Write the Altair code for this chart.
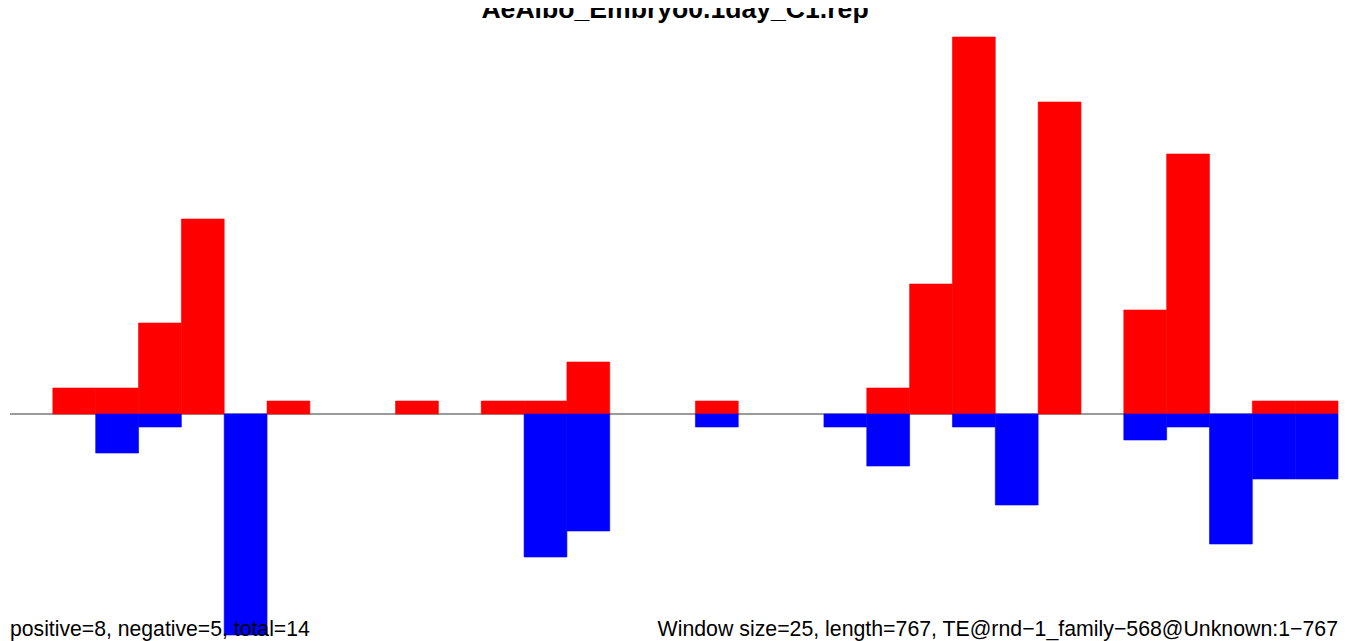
import altair as alt
import pandas as pd

# window index (25 bp windows over a 767 bp element)
bins = list(range(31))
positive_counts = [0, 2, 2, 7, 15, 0, 1, 0, 0, 1, 0, 1, 1, 4, 0, 0,
                   1, 0, 0, 0, 2, 10, 29, 0, 24, 0, 8, 20, 0, 1, 1]
negative_counts = [0, 0, 3, 1, 0, 17, 0, 0, 0, 0, 0, 0, 11, 9, 0, 0,
                   1, 0, 0, 1, 4, 0, 1, 7, 0, 0, 2, 1, 10, 5, 5]

title_text = "AeAlbo_Embryo0.1day_C1.rep"
left_note = "positive=8, negative=5, total=14"
right_note = "Window size=25, length=767, TE@rnd\u22121_family\u2212568@Unknown:1\u2212767"

rows = []
for b, p, n in zip(bins, positive_counts, negative_counts):
    if p:
        rows.append({"start": b, "end": b + 1, "value": p, "strand": "pos"})
    if n:
        rows.append({"start": b, "end": b + 1, "value": -n, "strand": "neg"})
df = pd.DataFrame(rows)

W, H = 1331, 633
xscale = alt.Scale(domain=[0, 31], range=[2, 1330], nice=False, zero=False)
yscale = alt.Scale(domain=[-17, 29], range=[627, 29], nice=False, zero=False)
strand_scale = alt.Scale(domain=["pos", "neg"], range=["#ff0000", "#0000ff"])

zero_line = alt.Chart(pd.DataFrame({"v": [0]})).mark_rule(
    color="#7a7a7a", strokeWidth=1.4
).encode(
    x=alt.value(2), x2=alt.value(1330),
    y=alt.Y("v:Q", scale=yscale, axis=None),
)

bars = alt.Chart(df).mark_rect(strokeWidth=0.6).encode(
    x=alt.X("start:Q", scale=xscale, axis=None),
    x2="end:Q",
    y=alt.Y("value:Q", scale=yscale, axis=None),
    y2=alt.datum(0),
    color=alt.Color("strand:N", scale=strand_scale, legend=None),
    stroke=alt.Stroke("strand:N", scale=strand_scale, legend=None),
)

one = pd.DataFrame({"t": [0]})
title = alt.Chart(one).mark_text(
    text=title_text, font="Liberation Sans", fontWeight="bold", fontSize=26.6,
    align="center", baseline="alphabetic", color="black"
).encode(x=alt.value(667), y=alt.value(10))

left = alt.Chart(one).mark_text(
    text=left_note, font="Liberation Sans", fontSize=21.2,
    align="left", baseline="alphabetic", color="black"
).encode(x=alt.value(2), y=alt.value(628))

right = alt.Chart(one).mark_text(
    text=right_note, font="Liberation Sans", fontSize=21.3,
    align="right", baseline="alphabetic", color="black"
).encode(x=alt.value(1330), y=alt.value(628))

chart = alt.layer(zero_line, bars, title, left, right).properties(
    width=W, height=H, padding=0,
    autosize=alt.AutoSizeParams(type="none"),
    background="white",
).configure_view(stroke=None)

chart.save("out.html", embed_options={"renderer": "svg", "actions": False})
